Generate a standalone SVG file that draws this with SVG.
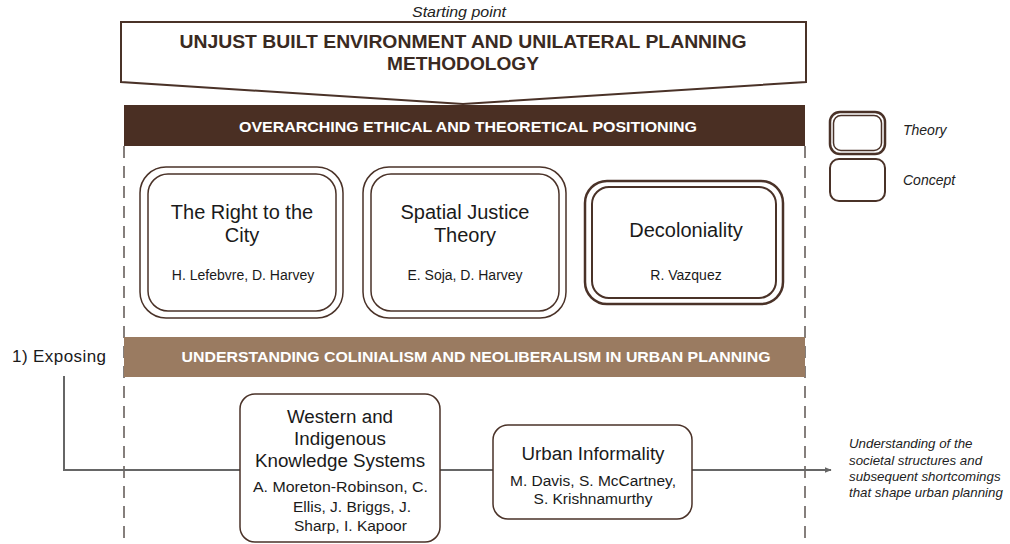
<svg xmlns="http://www.w3.org/2000/svg" width="1010" height="544" viewBox="0 0 1010 544">
<defs>
<style>
.t{font-family:"Liberation Sans",Arial,sans-serif;fill:#1a1a1a}
.it{font-style:italic;fill:#222}
.bold{font-weight:bold}
.box{fill:#fff;stroke:#4a3228}
.dash{stroke:#5e5652;stroke-width:1.5;stroke-dasharray:12 8;fill:none}
.conn{stroke:#666;stroke-width:2;fill:none}
</style>
<marker id="arr" viewBox="0 0 10 10" refX="9" refY="5" markerWidth="7" markerHeight="7" markerUnits="userSpaceOnUse" orient="auto">
<path d="M0,1 L10,5 L0,9 z" fill="#666"/>
</marker>
</defs>
<rect width="1010" height="544" fill="#fff"/>

<g id="frame">
<line class="dash" x1="124" y1="146" x2="124" y2="544"/>
<line class="dash" x1="805" y1="146" x2="805" y2="544"/>
</g>

<g id="connectors">
<path class="conn" d="M64,376 V470 H831" marker-end="url(#arr)"/>
</g>

<g id="starting-point">
<text class="t it" x="459" y="17" font-size="15" text-anchor="middle" textLength="94" lengthAdjust="spacingAndGlyphs">Starting point</text>
<polygon points="121,22 806,22 806,82 463,104 121,82" fill="#fff" stroke="#4a3228" stroke-width="2"/>
<text class="t bold" x="463" y="48" font-size="19" text-anchor="middle" textLength="567" lengthAdjust="spacingAndGlyphs" style="fill:#3a2a22">UNJUST BUILT ENVIRONMENT AND UNILATERAL PLANNING</text>
<text class="t bold" x="463" y="70" font-size="19" text-anchor="middle" textLength="152" lengthAdjust="spacingAndGlyphs" style="fill:#3a2a22">METHODOLOGY</text>
</g>

<g id="positioning">
<rect x="124" y="105" width="681" height="41" fill="#4a2f23"/>
<text class="t bold" x="468" y="132" font-size="15" text-anchor="middle" textLength="458" lengthAdjust="spacingAndGlyphs" style="fill:#fff">OVERARCHING ETHICAL AND THEORETICAL POSITIONING</text>
</g>

<g id="legend">
<rect x="830" y="112" width="55" height="42" rx="10" fill="#fff" stroke="#4a3228" stroke-width="2.5"/>
<rect x="833.5" y="115.5" width="48" height="35" rx="7.5" fill="none" stroke="#4a3228" stroke-width="1.5"/>
<text class="t it" x="903" y="135" font-size="14">Theory</text>
<rect x="830" y="159" width="55" height="42" rx="9" fill="#fff" stroke="#4a3228" stroke-width="2"/>
<text class="t it" x="903" y="185" font-size="14">Concept</text>
</g>

<g id="right-to-city">
<rect class="box" x="140" y="167" width="203" height="151" rx="26" stroke-width="1.5"/>
<rect x="148" y="174" width="188" height="137" rx="20" fill="none" stroke="#4a3228" stroke-width="1.5"/>
<text class="t" x="242" y="219" font-size="20" text-anchor="middle">The Right to the</text>
<text class="t" x="242" y="242" font-size="20" text-anchor="middle">City</text>
<text class="t" x="243" y="280" font-size="14" text-anchor="middle">H. Lefebvre, D. Harvey</text>
</g>

<g id="spatial-justice">
<rect class="box" x="363" y="167" width="203" height="151" rx="26" stroke-width="1.5"/>
<rect x="371" y="174" width="188" height="137" rx="20" fill="none" stroke="#4a3228" stroke-width="1.5"/>
<text class="t" x="465" y="219" font-size="20" text-anchor="middle">Spatial Justice</text>
<text class="t" x="465" y="242" font-size="20" text-anchor="middle">Theory</text>
<text class="t" x="465" y="280" font-size="14" text-anchor="middle">E. Soja, D. Harvey</text>
</g>

<g id="decoloniality">
<rect class="box" x="585" y="181" width="198" height="123" rx="22" stroke-width="2.5"/>
<rect x="592" y="187" width="184" height="111" rx="17" fill="none" stroke="#4a3228" stroke-width="2"/>
<text class="t" x="686" y="237" font-size="20" text-anchor="middle">Decoloniality</text>
<text class="t" x="686" y="280" font-size="14" text-anchor="middle">R. Vazquez</text>
</g>

<g id="exposing">
<text class="t" x="12" y="362" font-size="17" textLength="94" lengthAdjust="spacing">1)  Exposing</text>
<rect x="124" y="337" width="681" height="40" fill="#9a7b61"/>
<text class="t bold" x="476" y="362" font-size="15" text-anchor="middle" textLength="589" lengthAdjust="spacingAndGlyphs" style="fill:#fff">UNDERSTANDING COLINIALISM AND NEOLIBERALISM IN URBAN PLANNING</text>
</g>

<g id="western-indigenous">
<rect class="box" x="240" y="394" width="200" height="148" rx="15" stroke-width="1.5"/>
<text class="t" x="340" y="423" font-size="18.8" text-anchor="middle">Western and</text>
<text class="t" x="340" y="445" font-size="18.8" text-anchor="middle">Indigenous</text>
<text class="t" x="340" y="467" font-size="18.8" text-anchor="middle">Knowledge Systems</text>
<text class="t" x="253" y="492" font-size="15.5" textLength="175" lengthAdjust="spacingAndGlyphs">A. Moreton-Robinson, C.</text>
<text class="t" x="293" y="512" font-size="15.5">Ellis, J. Briggs, J.</text>
<text class="t" x="294" y="531" font-size="15.5">Sharp, I. Kapoor</text>
</g>

<g id="urban-informality">
<rect class="box" x="493" y="425" width="199" height="94" rx="15" stroke-width="1.5"/>
<text class="t" x="593" y="460" font-size="18.8" text-anchor="middle">Urban Informality</text>
<text class="t" x="593" y="486" font-size="15.5" text-anchor="middle">M. Davis, S. McCartney,</text>
<text class="t" x="593" y="504" font-size="15.5" text-anchor="middle">S. Krishnamurthy</text>
</g>

<g id="outcome">
<text class="t it" x="849" y="448" font-size="13.3">Understanding of the</text>
<text class="t it" x="849" y="465" font-size="13.3">societal structures and</text>
<text class="t it" x="849" y="481" font-size="13.3">subsequent shortcomings</text>
<text class="t it" x="849" y="497" font-size="13.3">that shape urban planning</text>
</g>
</svg>
